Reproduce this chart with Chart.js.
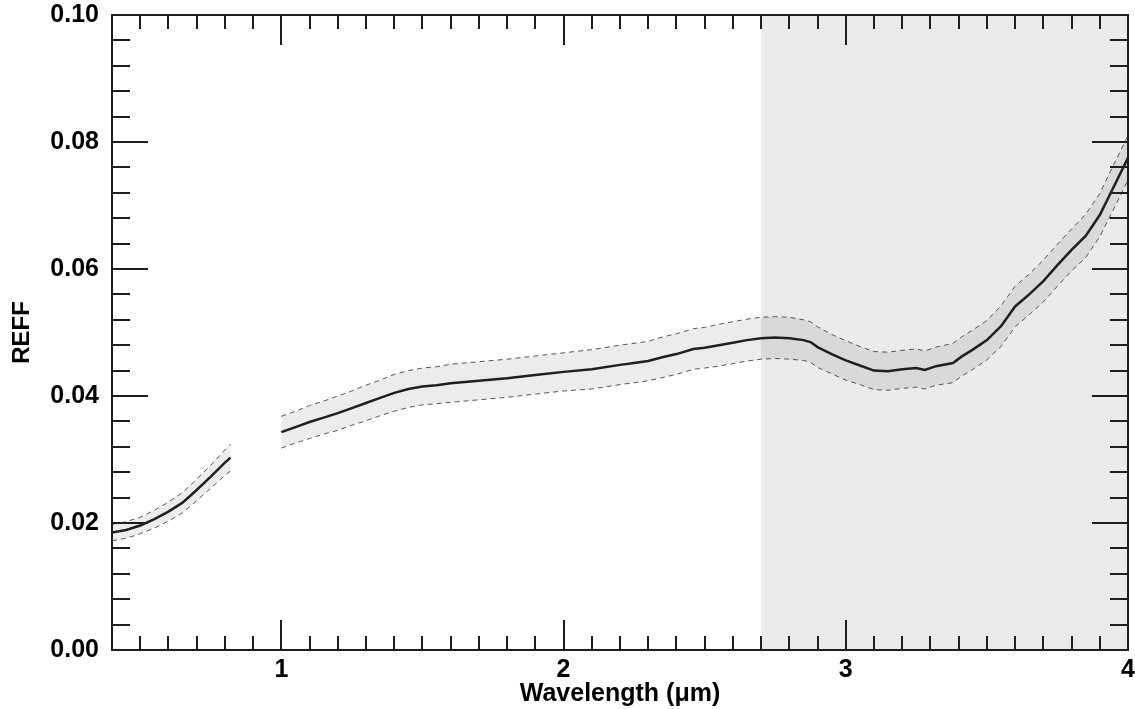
<!DOCTYPE html>
<html>
<head>
<meta charset="utf-8">
<script src="https://cdn.jsdelivr.net/npm/chart.js@4.4.1/dist/chart.umd.min.js"></script>
<style>
  html, body { margin: 0; padding: 0; background: #fff; }
</style>
</head>
<body>
<canvas id="myChart" width="1135" height="709"></canvas>
<script>
// wavelength in microns, null row breaks the curve (gap between 0.82 and 1.0)
const wavelength = [0.40, 0.45, 0.50, 0.55, 0.60, 0.65, 0.70, 0.75, 0.80, 0.82,
  0.90,
  1.00, 1.05, 1.10, 1.15, 1.20, 1.25, 1.30, 1.35, 1.40, 1.45, 1.50, 1.55, 1.60, 1.70, 1.80, 1.90,
  2.00, 2.10, 2.20, 2.25, 2.30, 2.35, 2.40, 2.46, 2.50, 2.55, 2.60, 2.65, 2.70, 2.75, 2.80, 2.85,
  2.875, 2.90, 2.95, 3.00, 3.05, 3.10, 3.15, 3.20, 3.25, 3.28, 3.32, 3.38, 3.41, 3.45, 3.50, 3.55,
  3.60, 3.65, 3.70, 3.75, 3.80, 3.85, 3.90, 3.95, 4.00];
const reff = [0.0185, 0.0189, 0.0196, 0.0206, 0.0218, 0.0232, 0.0252, 0.0273, 0.0295, 0.0303,
  null,
  0.0343, 0.0351, 0.0359, 0.0366, 0.0373, 0.0381, 0.0389, 0.0397, 0.0405, 0.0411, 0.0415, 0.0417, 0.0420, 0.0424, 0.0428, 0.0433,
  0.0438, 0.0442, 0.0449, 0.0452, 0.0455, 0.0461, 0.0466, 0.0474, 0.0476, 0.0480, 0.0484, 0.0488, 0.0491, 0.0492, 0.0491, 0.0488,
  0.0485, 0.0477, 0.0466, 0.0456, 0.0448, 0.0440, 0.0439, 0.0442, 0.0444, 0.0441, 0.0447, 0.0452, 0.0462, 0.0473, 0.0488, 0.0510,
  0.0541, 0.0560, 0.0581, 0.0606, 0.0630, 0.0652, 0.0685, 0.0730, 0.0775];
// half width of the uncertainty band
const reffErr = [0.0013, 0.0013, 0.0013, 0.0014, 0.0015, 0.0016, 0.0017, 0.0018, 0.0020, 0.0021,
  null,
  0.0025, 0.0025, 0.0026, 0.0026, 0.0027, 0.0027, 0.0028, 0.0028, 0.0029, 0.0029, 0.0029, 0.0029, 0.0030, 0.0030, 0.0030, 0.0030,
  0.0030, 0.0031, 0.0031, 0.0031, 0.0031, 0.0032, 0.0032, 0.0032, 0.0032, 0.0033, 0.0033, 0.0033, 0.0033, 0.0033, 0.0033, 0.0032,
  0.0032, 0.0032, 0.0031, 0.0031, 0.0030, 0.0030, 0.0030, 0.0030, 0.0030, 0.0030, 0.0030, 0.0031, 0.0031, 0.0031, 0.0031, 0.0032,
  0.0032, 0.0032, 0.0033, 0.0033, 0.0033, 0.0034, 0.0034, 0.0035, 0.0035];

const xTickLabels = [1, 2, 3, 4];
const yTickLabels = [0.00, 0.02, 0.04, 0.06, 0.08, 0.10];
const xMinorStep = 0.1;
const yMinorStep = 0.004;
const shadeFrom = 2.7;

const mainLine = wavelength.map((w, i) => ({x: w, y: reff[i]}));
const lowerLine = wavelength.map((w, i) => ({x: w, y: reff[i] == null ? null : reff[i] - reffErr[i]}));
const upperLine = wavelength.map((w, i) => ({x: w, y: reff[i] == null ? null : reff[i] + reffErr[i]}));

const family = "'Liberation Sans', Arial, Helvetica, sans-serif";
const labelFont = {family: family, size: 25, weight: 'bold'};

const frame = {
  id: 'frame',
  beforeDatasetsDraw(chart) {
    const {ctx, chartArea: a, scales: {x}} = chart;
    const px = x.getPixelForValue(shadeFrom);
    ctx.save();
    ctx.fillStyle = '#ebebeb';
    ctx.fillRect(px, a.top, a.right - px, a.bottom - a.top);
    ctx.restore();
  },
  afterDatasetsDraw(chart) {
    const {ctx, chartArea: a, scales: {x, y}} = chart;
    ctx.save();
    ctx.strokeStyle = '#1e1e1e';
    ctx.lineWidth = 2;
    ctx.beginPath();
    const nx = Math.round((x.max - x.min) / xMinorStep);
    for (let i = 0; i <= nx; i++) {
      const v = x.min + i * xMinorStep;
      const p = Math.round(x.getPixelForValue(v));
      const major = Math.abs(v - Math.round(v)) < 1e-6;
      const len = major ? 30 : 14;
      ctx.moveTo(p, a.bottom); ctx.lineTo(p, a.bottom - len);
      ctx.moveTo(p, a.top); ctx.lineTo(p, a.top + len);
    }
    const ny = Math.round((y.max - y.min) / yMinorStep);
    for (let j = 0; j <= ny; j++) {
      const v = y.min + j * yMinorStep;
      const p = Math.round(y.getPixelForValue(v));
      const major = j % 5 === 0;
      const len = major ? 36 : 18;
      ctx.moveTo(a.left, p); ctx.lineTo(a.left + len, p);
      ctx.moveTo(a.right, p); ctx.lineTo(a.right - len, p);
    }
    ctx.stroke();
    ctx.strokeRect(a.left, a.top, a.right - a.left, a.bottom - a.top);
    ctx.restore();
  }
};

const ctx = document.getElementById('myChart').getContext('2d');
const chart = new Chart(ctx, {
  type: 'line',
  data: {
    datasets: [{
      label: 'lower',
      data: lowerLine,
      borderColor: '#555',
      borderWidth: 1,
      borderDash: [5, 4],
      pointRadius: 0,
      fill: false
    }, {
      label: 'upper',
      data: upperLine,
      borderColor: '#555',
      borderWidth: 1,
      borderDash: [5, 4],
      pointRadius: 0,
      backgroundColor: 'rgba(0,0,0,0.075)',
      fill: '-1'
    }, {
      label: 'REFF',
      data: mainLine,
      borderColor: '#222',
      borderWidth: 2.5,
      pointRadius: 0,
      fill: false
    }]
  },
  options: {
    responsive: false,
    animation: false,
    spanGaps: false,
    layout: {padding: {top: 15, right: 7, left: 0, bottom: 0}},
    plugins: {legend: {display: false}, tooltip: {enabled: false}},
    scales: {
      x: {
        type: 'linear',
        min: 0.4,
        max: 4.0,
        afterFit: s => { s.height = 59; s.paddingLeft = 0; s.paddingRight = 0; },
        afterBuildTicks: s => { s.ticks = xTickLabels.map(v => ({value: v})); },
        grid: {display: false, drawTicks: false, tickLength: 0},
        border: {display: false},
        ticks: {
          color: '#000',
          font: labelFont,
          padding: 5,
          maxRotation: 0,
          autoSkip: false,
          callback: v => String(v)
        },
        title: {
          display: true,
          text: 'Wavelength (μm)',
          color: '#000',
          font: {family: family, size: 25, weight: 'bold'},
          padding: {top: 0, bottom: 0}
        }
      },
      y: {
        min: 0,
        max: 0.10,
        afterFit: s => { s.width = 112; s.paddingTop = 0; s.paddingBottom = 0; },
        afterBuildTicks: s => { s.ticks = yTickLabels.map(v => ({value: v})); },
        grid: {display: false, drawTicks: false, tickLength: 0},
        border: {display: false},
        ticks: {
          color: '#000',
          font: labelFont,
          padding: 13,
          autoSkip: false,
          callback: v => Number(v).toFixed(2)
        },
        title: {
          display: true,
          text: 'REFF',
          color: '#000',
          font: {family: family, size: 24, weight: 'bold'},
          padding: {top: 8, bottom: 0}
        }
      }
    }
  },
  plugins: [frame]
});
</script>
</body>
</html>
